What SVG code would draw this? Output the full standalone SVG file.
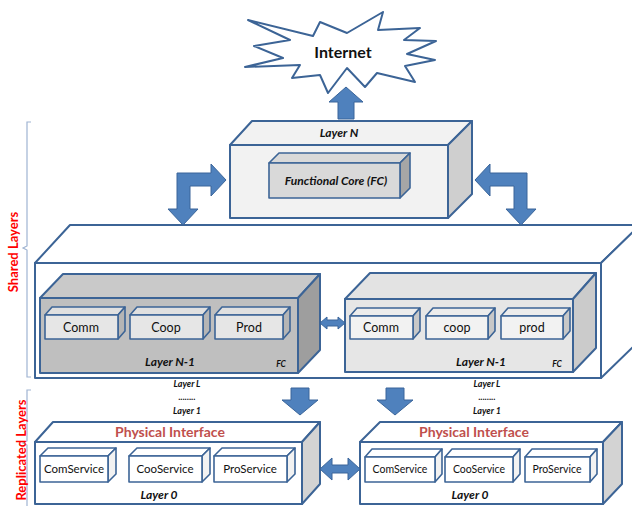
<svg xmlns="http://www.w3.org/2000/svg" width="632" height="506" viewBox="0 0 632 506">
<style>
.bx{stroke:#3c6496;stroke-width:2;stroke-linejoin:round}
.ib{stroke:#3c6496;stroke-width:1.6;stroke-linejoin:round}
.ar{fill:#4f81bd;stroke:#3a659a;stroke-width:1;stroke-linejoin:miter}
.t{font-family:Lato,"Liberation Sans",sans-serif;fill:#111;text-anchor:middle}
.bi{font-weight:bold;font-style:italic}
.br{fill:none;stroke:#9fb4d2;stroke-width:1.2}
.rd{font-family:Lato,"Liberation Sans",sans-serif;font-weight:bold;fill:#ff0000;text-anchor:middle;font-size:13px}
.pi{font-family:Lato,"Liberation Sans",sans-serif;fill:#c0504d;text-anchor:middle;font-size:14px;font-weight:bold}
</style>
<rect width="632" height="506" fill="#fff"/>

<g id="internet">
<polygon class="bx" fill="#fff" points="248,20 290,40 254,46 283,58 245,67 300,65 292,78 320,75 328,93 347,68 365,87 377,73 415,82 405,66 435,60 407,54 436,41 404,40 420,28 378,30 383,12 347,33 320,22 313,36"/>
<text class="t" x="343" y="58" font-size="16" font-weight="bold">Internet</text>
</g>

<g id="shared-brace">
<path class="br" d="M31,122 H27 V246 L23,248 L27,250 V377 H31"/>
<text class="rd" transform="translate(18,252) rotate(-90)">Shared Layers</text>
</g>
<g id="replicated-brace">
<path class="br" d="M31,390 H27 V441 L23,443 L27,445 V506"/>
<text class="rd" transform="translate(26,450) rotate(-90)">Replicated Layers</text>
</g>

<g id="shared-box">
<polygon class="bx" fill="#fff" points="35,263 70,225 640,225 601,263"/>
<polygon class="bx" fill="#fff" points="601,263 640,225 640,340 601,378"/>
<rect class="bx" fill="#fff" x="35" y="263" width="566" height="115"/>
</g>

<g id="layer-n">
<polygon class="bx" fill="#f2f2f2" points="230,145 252,121 472,121 448,145"/>
<polygon class="bx" fill="#cfcfcf" points="448,145 472,121 472,194 448,218"/>
<rect class="bx" fill="#f2f2f2" x="230" y="145" width="218" height="73"/>
<text class="t bi" x="339" y="137" font-size="12">Layer N</text>
</g>
<g id="fc">
<polygon class="ib" fill="#d9d9d9" points="269,163 279,153 410,153 400,163"/>
<polygon class="ib" fill="#a6a6a6" points="400,163 410,153 410,188 400,198"/>
<rect class="ib" fill="#d9d9d9" x="269" y="163" width="131" height="35"/>
<text class="t bi" x="336" y="185" font-size="12">Functional Core (FC)</text>
</g>

<g id="layer-n1-left">
<polygon class="bx" fill="#c9c9c9" points="40,298 63,274 320,274 298,298"/>
<polygon class="bx" fill="#9e9e9e" points="298,298 320,274 320,350 298,373"/>
<rect class="bx" fill="#bfbfbf" x="40" y="298" width="258" height="75"/>
<text class="t bi" x="170" y="366" font-size="12">Layer N-1</text>
<text class="t bi" x="281" y="367" font-size="8.5">FC</text>
</g>
<g id="comm-left">
<polygon class="ib" fill="#e0e0e0" points="45,315 52,307 125,307 118,315"/>
<polygon class="ib" fill="#b5b5b5" points="118,315 125,307 125,331 118,339"/>
<rect class="ib" fill="#e6e6e6" x="45" y="315" width="73" height="24"/>
<text class="t" x="81" y="332" font-size="12.5">Comm</text>
</g>
<g id="coop-left">
<polygon class="ib" fill="#e0e0e0" points="130,315 137,307 210,307 203,315"/>
<polygon class="ib" fill="#b5b5b5" points="203,315 210,307 210,331 203,339"/>
<rect class="ib" fill="#e6e6e6" x="130" y="315" width="73" height="24"/>
<text class="t" x="166" y="332" font-size="12.5">Coop</text>
</g>
<g id="prod-left">
<polygon class="ib" fill="#e0e0e0" points="215,315 222,307 290,307 283,315"/>
<polygon class="ib" fill="#b5b5b5" points="283,315 290,307 290,331 283,339"/>
<rect class="ib" fill="#e6e6e6" x="215" y="315" width="68" height="24"/>
<text class="t" x="249" y="332" font-size="12.5">Prod</text>
</g>

<g id="layer-n1-right">
<polygon class="bx" fill="#e3e3e3" points="345,299 370,273 596,273 573,299"/>
<polygon class="bx" fill="#cbcbcb" points="573,299 596,273 596,348 573,372"/>
<rect class="bx" fill="#e6e6e6" x="345" y="299" width="228" height="73"/>
<text class="t bi" x="481" y="366" font-size="12">Layer N-1</text>
<text class="t bi" x="557" y="367" font-size="8.5">FC</text>
</g>
<g id="comm-right">
<polygon class="ib" fill="#ececec" points="350,316 357,308 420,308 413,316"/>
<polygon class="ib" fill="#c8c8c8" points="413,316 420,308 420,331 413,339"/>
<rect class="ib" fill="#f2f2f2" x="350" y="316" width="63" height="23"/>
<text class="t" x="381" y="332" font-size="12.5">Comm</text>
</g>
<g id="coop-right">
<polygon class="ib" fill="#ececec" points="426,316 433,308 495,308 488,316"/>
<polygon class="ib" fill="#c8c8c8" points="488,316 495,308 495,331 488,339"/>
<rect class="ib" fill="#f2f2f2" x="426" y="316" width="62" height="23"/>
<text class="t" x="457" y="332" font-size="12.5">coop</text>
</g>
<g id="prod-right">
<polygon class="ib" fill="#ececec" points="501,316 508,308 570,308 563,316"/>
<polygon class="ib" fill="#c8c8c8" points="563,316 570,308 570,331 563,339"/>
<rect class="ib" fill="#f2f2f2" x="501" y="316" width="62" height="23"/>
<text class="t" x="532" y="332" font-size="12.5">prod</text>
</g>

<g id="layer-labels">
<text class="t bi" x="187" y="387" font-size="9">Layer L</text>
<text class="t bi" x="187" y="400" font-size="9">........</text>
<text class="t bi" x="187" y="414" font-size="9">Layer 1</text>
<text class="t bi" x="487" y="387" font-size="9">Layer L</text>
<text class="t bi" x="487" y="400" font-size="9">........</text>
<text class="t bi" x="487" y="414" font-size="9">Layer 1</text>
</g>

<g id="layer0-left">
<polygon class="bx" fill="#fff" points="35,442 53,422 320,422 302,442"/>
<polygon class="bx" fill="#d3d3d3" points="302,442 320,422 320,484 302,504"/>
<rect class="bx" fill="#fff" x="35" y="442" width="267" height="62"/>
<text class="pi" x="170" y="437">Physical Interface</text>
<text class="t bi" x="159" y="499" font-size="12">Layer 0</text>
</g>
<g id="comservice-left">
<polygon class="ib" fill="#fff" points="40,456 48,448 116,448 108,456"/>
<polygon class="ib" fill="#f2f2f2" points="108,456 116,448 116,474 108,482"/>
<rect class="ib" fill="#fff" x="40" y="456" width="68" height="26"/>
<text class="t" x="74" y="473" font-size="11.5">ComService</text>
</g>
<g id="cooservice-left">
<polygon class="ib" fill="#fff" points="129,456 137,448 210,448 202,456"/>
<polygon class="ib" fill="#f2f2f2" points="202,456 210,448 210,474 202,482"/>
<rect class="ib" fill="#fff" x="129" y="456" width="73" height="26"/>
<text class="t" x="165" y="473" font-size="11.5">CooService</text>
</g>
<g id="proservice-left">
<polygon class="ib" fill="#fff" points="214,456 222,448 295,448 287,456"/>
<polygon class="ib" fill="#f2f2f2" points="287,456 295,448 295,474 287,482"/>
<rect class="ib" fill="#fff" x="214" y="456" width="73" height="26"/>
<text class="t" x="250" y="473" font-size="11.5">ProService</text>
</g>

<g id="layer0-right">
<polygon class="bx" fill="#fff" points="360,442 380,422 622,422 603,442"/>
<polygon class="bx" fill="#d3d3d3" points="603,442 622,422 622,484 603,504"/>
<rect class="bx" fill="#fff" x="360" y="442" width="243" height="62"/>
<text class="pi" x="474" y="437">Physical Interface</text>
<text class="t bi" x="470" y="499" font-size="12">Layer 0</text>
</g>
<g id="comservice-right">
<polygon class="ib" fill="#fff" points="365,457 372,449 442,449 435,457"/>
<polygon class="ib" fill="#f2f2f2" points="435,457 442,449 442,474 435,482"/>
<rect class="ib" fill="#fff" x="365" y="457" width="70" height="25"/>
<text class="t" x="400" y="473" font-size="10.5">ComService</text>
</g>
<g id="cooservice-right">
<polygon class="ib" fill="#fff" points="445,457 452,449 520,449 513,457"/>
<polygon class="ib" fill="#f2f2f2" points="513,457 520,449 520,474 513,482"/>
<rect class="ib" fill="#fff" x="445" y="457" width="68" height="25"/>
<text class="t" x="479" y="473" font-size="10.5">CooService</text>
</g>
<g id="proservice-right">
<polygon class="ib" fill="#fff" points="525,457 532,449 597,449 590,457"/>
<polygon class="ib" fill="#f2f2f2" points="590,457 597,449 597,474 590,482"/>
<rect class="ib" fill="#fff" x="525" y="457" width="65" height="25"/>
<text class="t" x="557" y="473" font-size="10.5">ProService</text>
</g>

<g id="connectors">
<polygon class="ar" points="346,87 363,102 354,102 354,119 338,119 338,102 329,102"/>
<polygon class="ar" points="226,180 211,164 211,173 177,173 177,209 168,209 183,225 198,209 190,209 190,186 211,186 211,196"/>
<polygon class="ar" points="475,180 490,164 490,173 527,173 527,209 536,209 521,225 506,209 514,209 514,186 490,186 490,196"/>
<polygon class="ar" points="320,323 327,317 327,320 338,320 338,317 345,323 338,329 338,326 327,326 327,329"/>
<polygon class="ar" points="300,415 318,400 309,400 309,388 291,388 291,400 282,400"/>
<polygon class="ar" points="395,415 413,400 404,400 404,388 386,388 386,400 377,400"/>
<polygon class="ar" points="320,469 332,458 332,465 348,465 348,458 360,469 348,480 348,473 332,473 332,480"/>
</g>
</svg>
